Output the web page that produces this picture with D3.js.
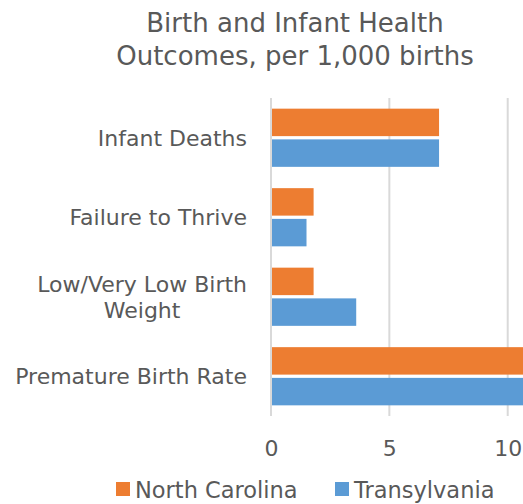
<!DOCTYPE html>
<html>
<head>
<meta charset="utf-8">
<script src="https://cdn.jsdelivr.net/npm/d3@7"></script>
<style>
  body { margin: 0; background: #fff; }
  text { font-family: "DejaVu Sans", sans-serif; fill: #595959; }
</style>
</head>
<body>
<script>
var categories = ['Infant Deaths', 'Failure to Thrive', 'Low/Very Low Birth Weight', 'Premature Birth Rate'],
    series = ['North Carolina', 'Transylvania'],
    northCarolina = [7.1, 1.8, 1.8, 11.5],
    transylvania = [7.1, 1.5, 3.6, 11.5],
    xTicks = [0, 5, 10],
    colors = ['#ed7d31', '#5b9bd5'];

var width = 523,
    height = 504,
    x = d3.scaleLinear().domain([0, 10]).range([271, 507.7]),
    y0 = d3.scaleBand().domain(categories).range([98, 416]),
    y1 = d3.scaleBand().domain(series).range([0, y0.bandwidth()])
        .paddingInner(0.106).paddingOuter(0.347),
    color = d3.scaleOrdinal().domain(series).range(colors),
    svg;

var rows = categories.map(function (c, i) {
    return { cat: c, values: [
        { s: series[0], v: northCarolina[i] },
        { s: series[1], v: transylvania[i] }
    ] };
});

function init() {
    svg = d3.select('body')
        .append('svg')
        .attr('width', width)
        .attr('height', height);
}

function title() {
    var t = svg.append('text')
        .attr('text-anchor', 'middle')
        .style('font-size', '26px');
    t.append('tspan').attr('x', 295).attr('y', 32).text('Birth and Infant Health');
    t.append('tspan').attr('x', 295).attr('y', 65).text('Outcomes, per 1,000 births');
}

function grid() {
    svg.selectAll('line.grid')
        .data(xTicks)
        .enter()
        .append('line')
        .attr('class', 'grid')
        .attr('x1', function (d) { return x(d); })
        .attr('x2', function (d) { return x(d); })
        .attr('y1', 98)
        .attr('y2', 416)
        .attr('stroke', '#d9d9d9')
        .attr('stroke-width', 2);
}

function bars() {
    var g = svg.selectAll('g.cat')
        .data(rows)
        .enter()
        .append('g')
        .attr('class', 'cat')
        .attr('transform', function (d) { return 'translate(0,' + y0(d.cat) + ')'; });
    g.selectAll('rect')
        .data(function (d) { return d.values; })
        .enter()
        .append('rect')
        .attr('x', x(0) + 1)
        .attr('y', function (d) { return y1(d.s); })
        .attr('height', y1.bandwidth())
        .attr('width', function (d) { return x(d.v) - x(0) - 1; })
        .attr('fill', function (d) { return color(d.s); });
}

function axes() {
    var xa = svg.append('g')
        .attr('transform', 'translate(0,416)')
        .call(d3.axisBottom(x).tickValues(xTicks).tickSize(0).tickPadding(24));
    xa.select('.domain').remove();
    xa.selectAll('text').style('font-size', '22px').attr('fill', '#595959');

    // category labels, the long one wraps onto two centred lines
    var right = 247;
    svg.selectAll('text.cat')
        .data(categories)
        .enter()
        .append('text')
        .attr('class', 'cat')
        .style('font-size', '22px')
        .each(function (d) {
            var el = d3.select(this),
                cy = y0(d) + y0.bandwidth() / 2,
                lines = d === 'Low/Very Low Birth Weight' ? ['Low/Very Low Birth', 'Weight'] : [d];
            lines.forEach(function (l, i) {
                el.append('tspan')
                    .attr('y', cy + 8 + (i - (lines.length - 1) / 2) * 26.5)
                    .text(l);
            });
            var w = d3.max(el.selectAll('tspan').nodes(), function (n) { return n.getComputedTextLength(); });
            el.attr('text-anchor', 'middle')
                .selectAll('tspan').attr('x', right - w / 2);
        });
}

function legend() {
    var pos = [116, 335];
    var lg = svg.selectAll('g.legend')
        .data(series)
        .enter()
        .append('g')
        .attr('class', 'legend')
        .attr('transform', function (d, i) { return 'translate(' + pos[i] + ',482)'; });
    lg.append('rect')
        .attr('width', 14)
        .attr('height', 14)
        .attr('fill', function (d) { return color(d); });
    lg.append('text')
        .attr('x', 19)
        .attr('y', 15.5)
        .style('font-size', '22.5px')
        .text(function (d) { return d; });
}

init();
title();
grid();
bars();
axes();
legend();
</script>
</body>
</html>
